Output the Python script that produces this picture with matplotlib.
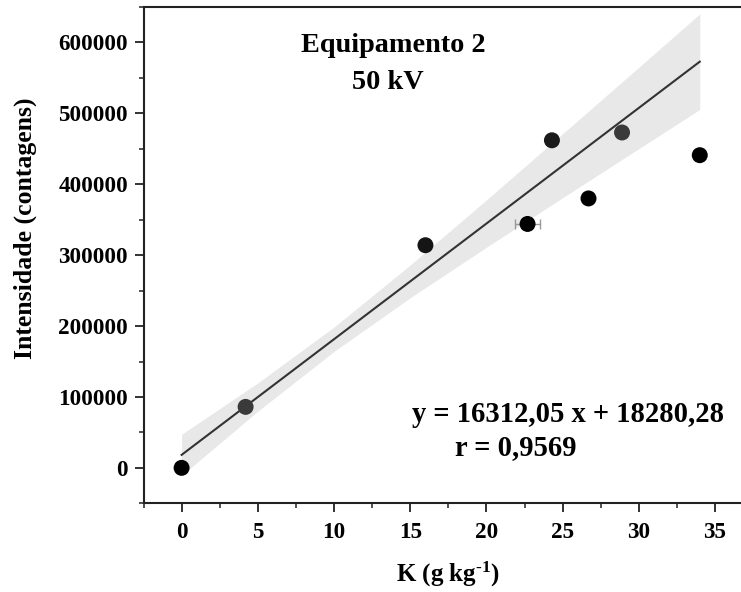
import matplotlib
matplotlib.use("Agg")
import matplotlib.pyplot as plt
from matplotlib.ticker import MultipleLocator
import numpy as np

# ---- data ----
k_values = [0.0, 4.2, 16.0, 22.7, 24.3, 26.7, 28.9, 34.0]
intensity = [0, 86000, 314000, 344000, 462000, 380000, 473000, 441000]
k_err = [0.0, 0.0, 0.0, 0.8, 0.0, 0.0, 0.0, 0.0]

slope = 16312.05
intercept = 18280.28
fit_x = [0.0, 34.0]

band_x = [0, 5, 10, 15, 20, 25, 30, 34]
band_upper = [47300, 119800, 198600, 286100, 377900, 471200, 565000, 640300]
band_lower = [-10700, 79900, 164200, 239900, 311100, 381000, 450200, 505500]

title_lines = ["Equipamento 2", "50 kV"]
equation_text = "y = 16312,05 x + 18280,28"
r_text = "r = 0,9569"
xlabel = "K (g kg$^{\\text{-1}}$)"
ylabel = "Intensidade (contagens)"

# ---- styling ----
plt.rcParams['font.family'] = ['Liberation Serif', 'DejaVu Serif']
plt.rcParams['font.weight'] = 'bold'
plt.rcParams['mathtext.fontset'] = 'custom'
plt.rcParams['mathtext.rm'] = 'Liberation Serif:bold'
plt.rcParams['mathtext.bf'] = 'Liberation Serif:bold'
plt.rcParams['mathtext.default'] = 'bf'

point_colors = ['black', '#3a3a3a', '#151515', 'black', '#1a1a1a', 'black', '#3a3a3a', 'black']

W, H = 741, 592
fig = plt.figure(figsize=(W / 100, H / 100), dpi=100)
ax = fig.add_axes([143.5 / W, 88.7 / H, 609.6 / W, 496.3 / H])

ax.fill_between(band_x, band_lower, band_upper, color='#e8e8e8', linewidth=0, zorder=1)
fx = np.array(fit_x)
ax.plot(fx, slope * fx + intercept, color='#333333', linewidth=1.5, zorder=2)

ax.errorbar(k_values, intensity, xerr=k_err, fmt='none', ecolor='#999999',
            elinewidth=1.0, capsize=3.5, capthick=1.0, zorder=3)
ax.scatter(k_values, intensity, s=11.5**2, c=point_colors, edgecolors='none', zorder=4)

ax.set_xlim(-2.5, 37.5)
ax.set_ylim(-50000, 650000)
ax.xaxis.set_major_locator(MultipleLocator(5))
ax.xaxis.set_minor_locator(MultipleLocator(2.5))
ax.yaxis.set_major_locator(MultipleLocator(100000))
ax.yaxis.set_minor_locator(MultipleLocator(50000))

for side in ['left', 'bottom', 'top']:
    ax.spines[side].set_linewidth(1.5)
    ax.spines[side].set_color('#222222')
ax.spines['right'].set_visible(False)

ax.tick_params(which='major', direction='out', length=6.2, width=1.3, labelsize=16.7,
               colors='#222222', labelcolor='black')
ax.tick_params(which='minor', direction='out', length=3.4, width=1.1, colors='#222222')
ax.tick_params(axis='x', which='major', pad=7.5)
ax.tick_params(axis='y', which='major', pad=5)
for lab in ax.get_xticklabels() + ax.get_yticklabels():
    lab.set_fontweight('bold')


def ftext(x, y, s, **kw):
    return fig.text(x / W, 1 - y / H, s, fontweight='bold', **kw)


ftext(447.5, 581.7, xlabel, fontsize=18, ha='center', va='baseline')
ftext(25, 228, ylabel, fontsize=18.5, ha='center', va='center', rotation=90)

ftext(393.5, 52.3, title_lines[0], fontsize=20.3, ha='center', va='baseline')
ftext(387.5, 89.3, title_lines[1], fontsize=20.3, ha='center', va='baseline')
ftext(568, 421.7, equation_text, fontsize=20.6, ha='center', va='baseline')
ftext(516, 455, r_text, fontsize=20.6, ha='center', va='baseline')

fig.savefig("out.png", dpi=100)
